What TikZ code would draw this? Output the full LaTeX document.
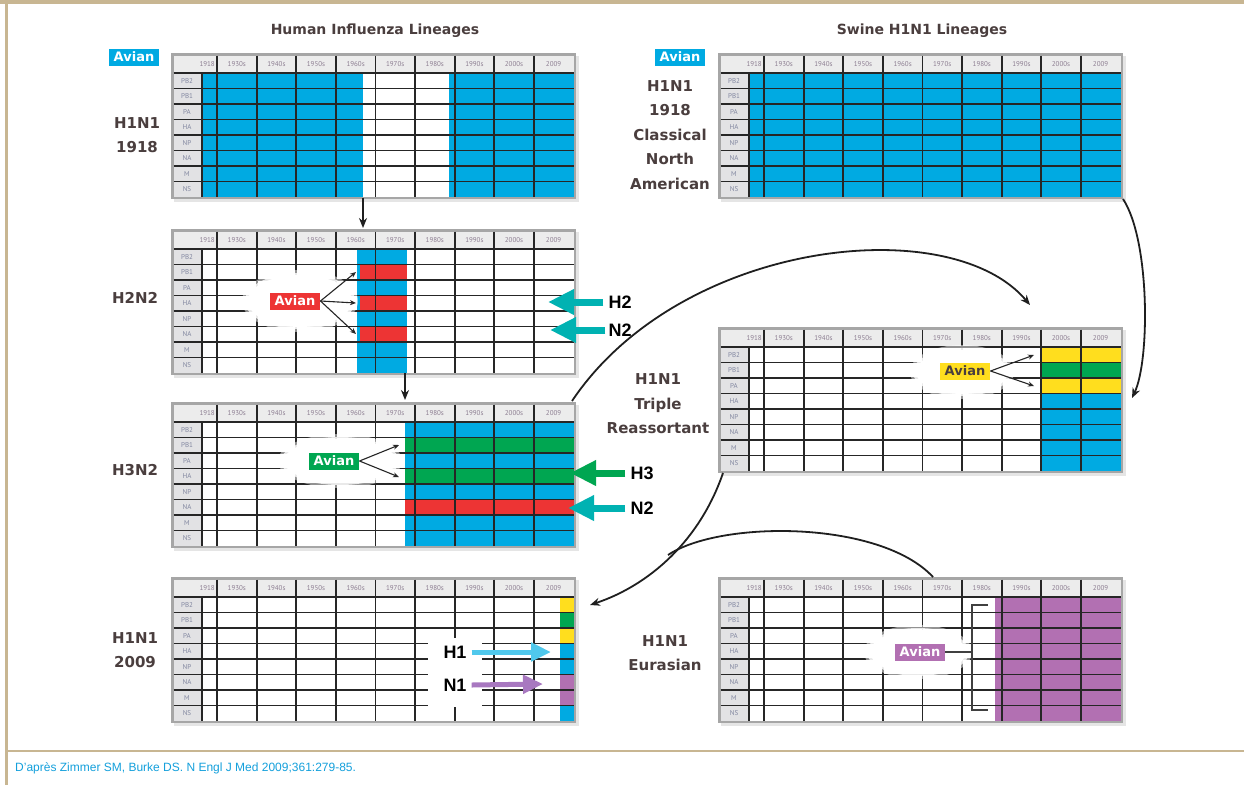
\documentclass[tikz,border=0pt]{standalone}
\usepackage{fontspec}
\setmainfont{PT Sans}
\newfontfamily\arialf{Liberation Sans}
\newfontfamily\dejaf{DejaVu Sans}
\usetikzlibrary{arrows.meta}
\definecolor{fblue}{RGB}{0,170,226}
\definecolor{fred}{RGB}{237,52,52}
\definecolor{fgreen}{RGB}{0,166,81}
\definecolor{fyellow}{RGB}{255,222,30}
\definecolor{fpurple}{RGB}{178,112,178}
\definecolor{fteal}{RGB}{0,178,178}
\definecolor{flblue}{RGB}{80,200,236}
\definecolor{fapurple}{RGB}{168,120,192}
\definecolor{tanc}{RGB}{200,182,146}
\definecolor{glc}{RGB}{38,38,38}
\definecolor{titlec}{RGB}{74,62,62}
\definecolor{citec}{RGB}{20,160,220}
\definecolor{hdrc}{RGB}{236,236,236}
\definecolor{lblc}{RGB}{226,226,228}
\definecolor{hdrtxt}{RGB}{140,125,145}
\definecolor{genetxt}{RGB}{130,135,160}
\newcommand\gridbg{%
  \fill[black!10] (3,3) rectangle (408,149);
  \fill[black!35] (0,0) rectangle (405,146);
  \fill[white] (2.5,2.5) rectangle (402.5,144);
  \fill[hdrc] (2.5,2.5) rectangle (402.5,20);
  \fill[lblc] (2.5,20) rectangle (31,144);
}
\newcommand\gfill[5]{\fill[#1] (#2,{20+15.5*(#4-1)}) rectangle (#3,{20+15.5*(#5)});}
\newcommand\gridlines[1]{%
  \foreach \k in {0,...,7} \draw[gl] (2.5,{20+15.5*\k}) -- (402.5,{20+15.5*\k});
  \draw[gl] (31,20) -- (31,144);
  \foreach \xx in {46,85.6,125.2,164.8,204.4,244,283.6,323.2,362.8} \draw[gl] (\xx,2.5) -- (\xx,144);
  \node[hdr,anchor=east] (#1h0) at (44,11) {1918};
  \foreach \t [count=\i] in {1930s,1940s,1950s,1960s,1970s,1980s,1990s,2000s,2009}
    \node[hdr] (#1h\i) at ({46+39.6*(\i-0.5)},11) {\t};
  \foreach \g [count=\i] in {PB2,PB1,PA,HA,NP,NA,M,NS}
    \node[gene] (#1g\i) at (16,{20+15.5*(\i-0.5)}) {\g};
}
\newcommand\glow[3]{%
  \fill[white,opacity=0.5] (#1) ellipse [x radius={#2+6}, y radius={#3+5}];
  \fill[white,opacity=0.8] (#1) ellipse [x radius={#2+3}, y radius={#3+2}];
  \fill[white] (#1) ellipse [x radius=#2, y radius=#3];
}
\begin{document}
\begin{tikzpicture}[x=1pt,y=-1pt,
  gl/.style={glc,line width=1.8pt},
  hdr/.style={font=\fontsize{7}{8}\selectfont,text=hdrtxt,inner sep=0pt},
  gene/.style={font=\fontsize{7}{8}\selectfont,text=genetxt,inner sep=0pt},
  lin/.style={font=\dejaf\bfseries\fontsize{15}{24.5}\selectfont,text=titlec,align=center,inner sep=0pt},
  ttl/.style={font=\dejaf\bfseries\fontsize{14}{18}\selectfont,text=titlec,inner sep=0pt},
  avian/.style={font=\dejaf\bfseries\fontsize{13}{13}\selectfont,text=white,inner xsep=5pt,inner ysep=2pt,minimum height=17pt},
  hn/.style={font=\arialf\bfseries\fontsize{18}{18}\selectfont,text=black,inner sep=1pt},
  small/.style={-{Stealth[length=6pt,width=5pt]},line width=1.1pt,black!85},
  curve/.style={-{Stealth[length=10pt,width=8pt]},line width=1.8pt,black!88},
  big/.style={line width=7pt,-{Triangle[length=26pt,width=24pt]}},
  mid/.style={line width=5pt,-{Triangle[length=20pt,width=18pt]}}
]
\useasboundingbox (0,0) rectangle (1244,785);
\fill[white] (0,0) rectangle (1244,785);
% frame
\fill[tanc] (0,0) rectangle (1244,4);
\fill[tanc] (5,0) rectangle (7.5,785);
\fill[tanc] (5,749.5) rectangle (1244,752);
\node[anchor=west,font=\arialf\fontsize{12}{14}\selectfont,text=citec,inner sep=0pt] (cite) at (15,768) {D’après Zimmer SM, Burke DS. N Engl J Med 2009;361:279-85.};

% titles
\node[ttl] (t1) at (375,31) {Human Influenza Lineages};
\node[ttl] (t2) at (922,31) {Swine H1N1 Lineages};
\node[avian,fill=fblue] (av1) at (134,57) {Avian};
\node[avian,fill=fblue] (av2) at (680,57) {Avian};

% ---------- grid 1: H1N1 1918 human
\begin{scope}[shift={(171,53)}]
\gridbg
\gfill{fblue}{31}{192}{1}{8}
\gfill{fblue}{278}{402.5}{1}{8}
\gridlines{ga}
\end{scope}
% ---------- grid 2: H2N2
\begin{scope}[shift={(171,229)}]
\gridbg
\gfill{fblue}{186}{236}{1}{8}
\gfill{fred}{189}{236}{2}{2}
\gfill{fred}{189}{236}{4}{4}
\gfill{fred}{189}{236}{6}{6}
\gridlines{gb}
\end{scope}
% ---------- grid 3: H3N2
\begin{scope}[shift={(171,402)}]
\gridbg
\gfill{fblue}{234}{402.5}{1}{8}
\gfill{fgreen}{234}{402.5}{2}{2}
\gfill{fgreen}{234}{402.5}{4}{4}
\gfill{fred}{234}{402.5}{6}{6}
\gridlines{gc}
\end{scope}
% ---------- grid 4: H1N1 2009
\begin{scope}[shift={(171,577)}]
\gridbg
\gfill{fyellow}{389}{402.5}{1}{1}
\gfill{fgreen}{389}{402.5}{2}{2}
\gfill{fyellow}{389}{402.5}{3}{3}
\gfill{fblue}{389}{402.5}{4}{5}
\gfill{fpurple}{389}{402.5}{6}{7}
\gfill{fblue}{389}{402.5}{8}{8}
\gridlines{gd}
\end{scope}
% ---------- grid 5: classical swine
\begin{scope}[shift={(718,53)}]
\gridbg
\gfill{fblue}{31}{402.5}{1}{8}
\gridlines{ge}
\end{scope}
% ---------- grid 6: triple reassortant
\begin{scope}[shift={(718,327)}]
\gridbg
\gfill{fyellow}{323.2}{402.5}{1}{1}
\gfill{fgreen}{323.2}{402.5}{2}{2}
\gfill{fyellow}{323.2}{402.5}{3}{3}
\gfill{fblue}{323.2}{402.5}{4}{8}
\gridlines{gf}
\end{scope}
% ---------- grid 7: Eurasian
\begin{scope}[shift={(718,577)}]
\gridbg
\gfill{fpurple}{277}{402.5}{1}{8}
\gridlines{gg}
\end{scope}

% lineage labels
\node[lin] (n1) at (137,135) {H1N1\\1918};
\node[lin] (n2) at (135,298) {H2N2};
\node[lin] (n3) at (135,470) {H3N2};
\node[lin] (n4) at (135,650) {H1N1\\2009};
\node[lin] (n5) at (670,135) {H1N1\\1918\\Classical\\North\\American};
\node[lin] (n6) at (658,404) {H1N1\\Triple\\Reassortant};
\node[lin] (n7) at (665,653) {H1N1\\Eurasian};

% avian insertions
\glow{300,301}{52}{26}
\node[avian,fill=fred] (avr) at (295,301) {Avian};
\coordinate (r1) at (356,272); \coordinate (r2) at (356,303); \coordinate (r3) at (356,334);
\draw[small] (avr.east) -- (r1);
\draw[small] (avr.east) -- (r2);
\draw[small] (avr.east) -- (r3);

\glow{340,461}{56}{22}
\node[avian,fill=fgreen] (avg) at (334,461) {Avian};
\coordinate (g1) at (399,445); \coordinate (g2) at (399,477);
\draw[small] (avg.east) -- (g1);
\draw[small] (avg.east) -- (g2);

\glow{962,372}{46}{22}
\node[avian,fill=fyellow,text=titlec] (avy) at (965,371) {Avian};
\coordinate (y1) at (1034,355); \coordinate (y2) at (1034,386);
\draw[small] (avy.east) -- (y1);
\draw[small] (avy.east) -- (y2);

\glow{918,652}{48}{22}
\node[avian,fill=fpurple] (avp) at (920,652) {Avian};
\coordinate (bk) at (972,652);
\draw[line width=1.5pt,black!75] (988,605) -- (972,605) -- (972,710) -- (988,710);
\draw[line width=1.5pt,black!75] (avp.east) -- (bk);

% H1 N1 box in 2009 grid
\fill[white] (428,638) rectangle (482,707);
\node[hn] (h1) at (455,652) {H1};
\node[hn] (nn1) at (455,685) {N1};
\coordinate (h1t) at (551,652); \coordinate (n1t) at (543,684);
\draw[mid,flblue] ([xshift=4pt]h1.east) -- (h1t);
\draw[mid,fapurple] ([xshift=4pt]nn1.east) -- (n1t);

% H2 N2 arrows
\node[hn] (h2) at (620,302) {H2};
\node[hn] (n2b) at (620,330) {N2};
\coordinate (h2t) at (548,302); \coordinate (n2t) at (550,330);
\draw[big,fteal] ([xshift=-4pt]h2.west) -- (h2t);
\draw[big,fteal] ([xshift=-2pt]n2b.west) -- (n2t);

% H3 N2 arrows
\node[hn] (h3) at (642,473) {H3};
\node[hn] (n2c) at (642,508) {N2};
\coordinate (h3t) at (570,473); \coordinate (n3t) at (568,508);
\draw[big,fgreen] ([xshift=-4pt]h3.west) -- (h3t);
\draw[big,fteal] ([xshift=-4pt]n2c.west) -- (n3t);

% vertical arrows
\coordinate (v1a) at (363,198); \coordinate (v1b) at (363,228);
\coordinate (v2a) at (405,373); \coordinate (v2b) at (405,400);
\draw[curve,line width=1.5pt] (v1a) -- (v1b);
\draw[curve,line width=1.5pt] (v2a) -- (v2b);

% curved arrows
\coordinate (c5s) at (1123,199); \coordinate (c6e) at (1132,398);
\draw[curve] (c5s) .. controls (1150,240) and (1150,360) .. (c6e);
\coordinate (c3s) at (572,401); \coordinate (c6t) at (1030,305);
\draw[curve] (c3s) .. controls (680,240) and (950,210) .. (c6t);
\coordinate (c6s) at (723,473); \coordinate (c4e) at (590,605);
\draw[curve] (c6s) .. controls (700,540) and (650,585) .. (c4e);
\coordinate (c7s) at (933,577); \coordinate (cm) at (668,555);
\draw[line width=1.8pt,black!88] (c7s) .. controls (880,520) and (720,520) .. (cm);
\end{tikzpicture}
\end{document}
